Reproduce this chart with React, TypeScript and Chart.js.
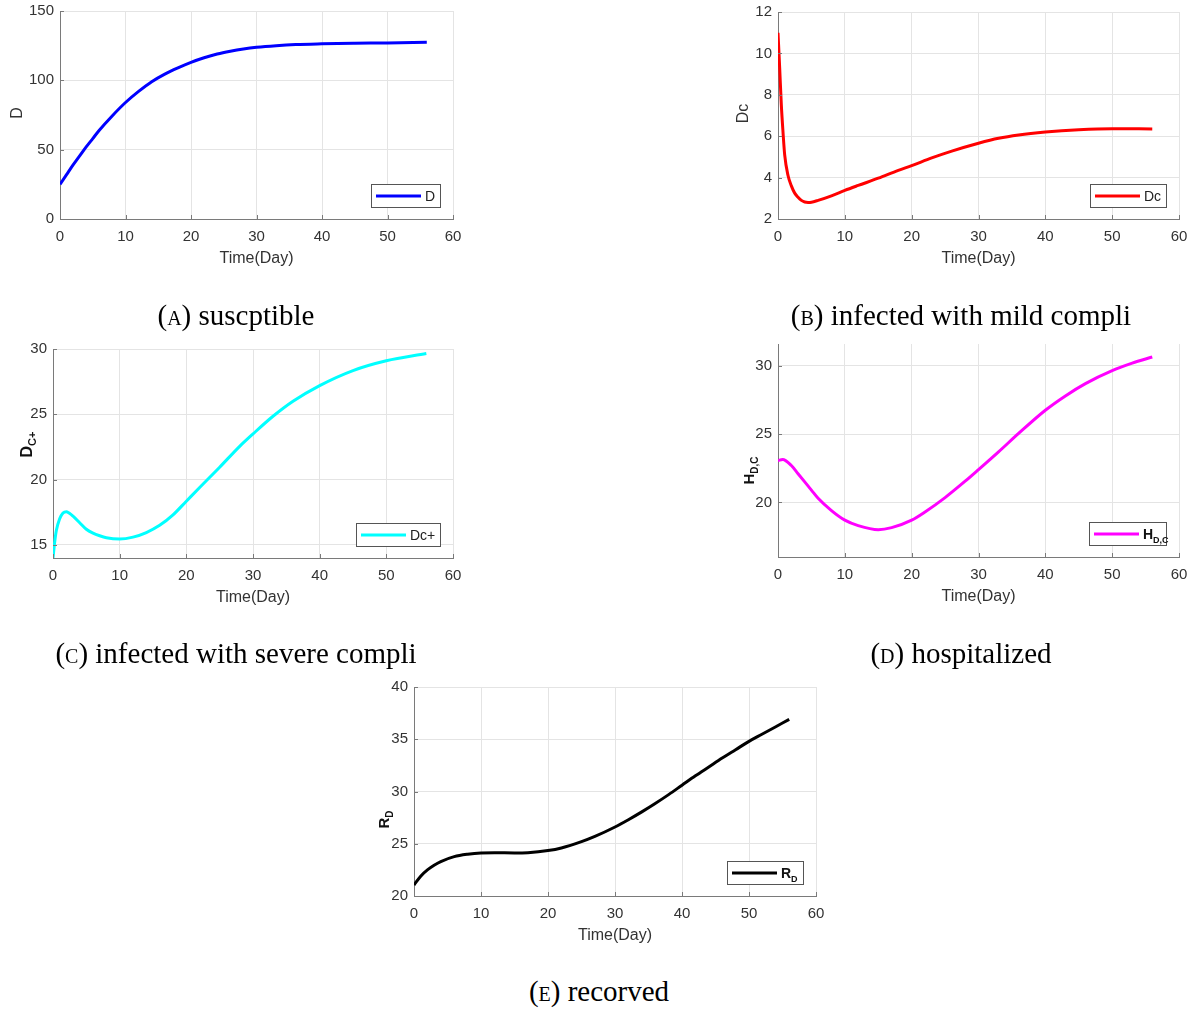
import React, { useEffect, useRef } from "react";
import { Chart, registerables } from "chart.js";
Chart.register(...registerables);

const FAM = '"Liberation Sans", Arial, sans-serif';
const AXIS = "#7a7a7a";
const TXT = "#333333";

// x ticks shared
const xTicks = [0, 10, 20, 30, 40, 50, 60];

// (A) D
const xA = [0, 1, 2, 3, 4, 5, 6, 8, 10, 12, 14, 16, 18, 20, 22, 24, 26, 28, 30, 33, 36, 40, 45, 50, 56];
const yA = [25, 32, 39, 45.5, 52, 58, 64, 74.5, 84, 92, 99, 104.5, 109, 113, 116.3, 119, 121, 122.6, 123.8, 125, 125.8, 126.3, 126.7, 127, 127.5];
const yTicksA = [0, 50, 100, 150];

// (B) Dc
const xB = [0, 0.25, 0.5, 0.75, 1, 1.5, 2, 2.5, 3, 3.5, 4, 4.5, 5, 6, 8, 10, 12, 15, 18, 20, 23, 26, 30, 33, 36, 40, 45, 50, 56];
const yB = [11, 9.3, 7.5, 6.2, 5.1, 4.1, 3.6, 3.25, 3.05, 2.9, 2.82, 2.8, 2.81, 2.9, 3.12, 3.38, 3.62, 3.97, 4.35, 4.58, 4.95, 5.28, 5.66, 5.9, 6.06, 6.2, 6.31, 6.36, 6.35];
const yTicksB = [2, 4, 6, 8, 10, 12];

// (C) Dc+
const xC = [0, 0.25, 0.5, 1, 1.5, 2, 3, 4, 5, 6, 7, 8, 10, 12, 14, 16, 18, 20, 22, 25, 28, 30, 33, 36, 40, 45, 50, 56];
const yC = [14, 15.2, 16.1, 17.0, 17.45, 17.55, 17.2, 16.7, 16.2, 15.9, 15.7, 15.55, 15.45, 15.6, 15.95, 16.5, 17.3, 18.35, 19.4, 20.95, 22.55, 23.5, 24.85, 26.0, 27.2, 28.35, 29.1, 29.65];
const yTicksC = [15, 20, 25, 30];

// (D) H_D,C
const xD = [0, 0.7, 2, 3, 4, 5, 6, 8, 10, 12, 15, 17, 20, 22, 25, 28, 30, 33, 36, 40, 43, 46, 50, 53, 56];
const yD = [23.05, 23.15, 22.7, 22.1, 21.5, 20.9, 20.3, 19.4, 18.7, 18.3, 18.0, 18.15, 18.7, 19.3, 20.35, 21.55, 22.4, 23.7, 25.05, 26.75, 27.8, 28.7, 29.65, 30.2, 30.65];
const yTicksD = [20, 25, 30];

// (E) R_D
const xE = [0, 1, 2, 3, 4, 6, 8, 10, 12, 15, 17, 20, 22, 25, 27, 30, 32, 34, 36, 38, 40, 42, 44, 46, 48, 50, 52, 54, 56];
const yE = [21.05, 21.9, 22.5, 22.95, 23.3, 23.77, 24.0, 24.12, 24.14, 24.12, 24.15, 24.35, 24.6, 25.2, 25.7, 26.6, 27.3, 28.05, 28.85, 29.7, 30.6, 31.5, 32.35, 33.2, 34.0, 34.8, 35.5, 36.2, 36.9];
const yTicksE = [20, 25, 30, 35, 40];

type Part = [string, boolean];

const yTitleA: Part[] = [["D", false]];
const yTitleB: Part[] = [["Dc", false]];
const yTitleC: Part[] = [["D", false], ["C+", true]];
const yTitleD: Part[] = [["H", false], ["D,C", true]];
const yTitleE: Part[] = [["R", false], ["D", true]];

const legendA: Part[] = [["D", false]];
const legendB: Part[] = [["Dc", false]];
const legendC: Part[] = [["Dc+", false]];
const legendD: Part[] = [["H", false], ["D,C", true]];
const legendE: Part[] = [["R", false], ["D", true]];

interface Cfg {
  plot: { l: number; t: number; r: number; b: number };
  xs: number[];
  ys: number[];
  color: string;
  yMin: number;
  yMax: number;
  yTicks: number[];
  yTitle: Part[];
  yTitleBold: boolean;
  yTitleSize: number;
  yTitleSub: number;
  yTitleDx: number;
  yTitleDy: number;
  legend: Part[];
  legendBold: boolean;
  legendW: number;
}

const charts: Cfg[] = [
  { plot: { l: 60, t: 11, r: 453, b: 219 }, xs: xA, ys: yA, color: "#0000ff", yMin: 0, yMax: 150, yTicks: yTicksA,
    yTitle: yTitleA, yTitleBold: false, yTitleSize: 16, yTitleSub: 11, yTitleDx: 44, yTitleDy: -2, legend: legendA, legendBold: false, legendW: 69 },
  { plot: { l: 778, t: 12, r: 1179, b: 219 }, xs: xB, ys: yB, color: "#ff0000", yMin: 2, yMax: 12, yTicks: yTicksB,
    yTitle: yTitleB, yTitleBold: false, yTitleSize: 16, yTitleSub: 11, yTitleDx: 36, yTitleDy: -2, legend: legendB, legendBold: false, legendW: 76 },
  { plot: { l: 53, t: 349, r: 453, b: 558 }, xs: xC, ys: yC, color: "#00ffff", yMin: 14, yMax: 30, yTicks: yTicksC,
    yTitle: yTitleC, yTitleBold: true, yTitleSize: 16, yTitleSub: 11, yTitleDx: 27, yTitleDy: -9, legend: legendC, legendBold: false, legendW: 84 },
  { plot: { l: 778, t: 344, r: 1179, b: 557 }, xs: xD, ys: yD, color: "#ff00ff", yMin: 16, yMax: 31.6, yTicks: yTicksD,
    yTitle: yTitleD, yTitleBold: true, yTitleSize: 15, yTitleSub: 10, yTitleDx: 29, yTitleDy: 20, legend: legendD, legendBold: true, legendW: 77 },
  { plot: { l: 414, t: 687, r: 816, b: 896 }, xs: xE, ys: yE, color: "#000000", yMin: 20, yMax: 40, yTicks: yTicksE,
    yTitle: yTitleE, yTitleBold: true, yTitleSize: 15, yTitleSub: 10, yTitleDx: 30, yTitleDy: 28, legend: legendE, legendBold: true, legendW: 76 },
];

const captions = [
  { letter: "(a)", text: " suscptible", cx: 236, cy: 315 },
  { letter: "(b)", text: " infected with mild compli", cx: 961, cy: 315 },
  { letter: "(c)", text: " infected with severe compli", cx: 236, cy: 653 },
  { letter: "(d)", text: " hospitalized", cx: 961, cy: 653 },
  { letter: "(e)", text: " recorved", cx: 599, cy: 991 },
];

const PAD_L = 60, PAD_T = 18, PAD_R = 22, X_H = 52;

function drawParts(ctx: CanvasRenderingContext2D, parts: Part[], x: number, y: number, center: boolean, bold: boolean, size: number, sub: number) {
  const w = bold ? "bold " : "";
  const mainF = `${w}${size}px ${FAM}`;
  const subF = `${w}${sub}px ${FAM}`;
  let total = 0;
  for (const [t, s] of parts) {
    ctx.font = s ? subF : mainF;
    total += ctx.measureText(t).width;
  }
  let cx = center ? x - total / 2 : x;
  ctx.textBaseline = "alphabetic";
  ctx.textAlign = "left";
  const base = y + size * 0.36;
  for (const [t, s] of parts) {
    ctx.font = s ? subF : mainF;
    ctx.fillText(t, cx, base + (s ? size * 0.25 : 0));
    cx += ctx.measureText(t).width;
  }
}

function ChartBox({ cfg }: { cfg: Cfg }) {
  const ref = useRef<HTMLCanvasElement>(null);
  const pw = cfg.plot.r - cfg.plot.l;
  const ph = cfg.plot.b - cfg.plot.t;
  const W = pw + PAD_L + PAD_R;
  const H = ph + PAD_T + X_H;
  useEffect(() => {
    if (!ref.current) return;
    const overlay = {
      id: "overlay",
      afterDraw(chart: any) {
        const { ctx, chartArea: a, scales } = chart;
        ctx.save();
        // inward tick marks
        ctx.strokeStyle = AXIS;
        ctx.lineWidth = 1;
        for (const t of scales.x.ticks) {
          const px = Math.round(scales.x.getPixelForValue(t.value)) + 0.5;
          ctx.beginPath();
          ctx.moveTo(px, a.bottom);
          ctx.lineTo(px, a.bottom - 4);
          ctx.stroke();
        }
        for (const t of scales.y.ticks) {
          const py = Math.round(scales.y.getPixelForValue(t.value)) + 0.5;
          ctx.beginPath();
          ctx.moveTo(a.left, py);
          ctx.lineTo(a.left + 4, py);
          ctx.stroke();
        }
        // y title
        ctx.save();
        ctx.translate(a.left - cfg.yTitleDx, (a.top + a.bottom) / 2 + cfg.yTitleDy);
        ctx.rotate(-Math.PI / 2);
        ctx.fillStyle = cfg.yTitleBold ? "#111" : TXT;
        drawParts(ctx, cfg.yTitle, 0, 0, true, cfg.yTitleBold, cfg.yTitleSize, cfg.yTitleSub);
        ctx.restore();
        // legend
        const h = 23;
        const bx = Math.round(a.right - 13 - cfg.legendW);
        const by = Math.round(a.bottom - 12 - h);
        ctx.fillStyle = "#ffffff";
        ctx.fillRect(bx, by, cfg.legendW, h);
        ctx.strokeStyle = "#555555";
        ctx.lineWidth = 1;
        ctx.strokeRect(bx + 0.5, by + 0.5, cfg.legendW, h);
        ctx.strokeStyle = cfg.color;
        ctx.lineWidth = 3;
        ctx.beginPath();
        ctx.moveTo(bx + 5, by + h / 2 + 0.5);
        ctx.lineTo(bx + 50, by + h / 2 + 0.5);
        ctx.stroke();
        ctx.fillStyle = cfg.legendBold ? "#111" : "#222";
        drawParts(ctx, cfg.legend, bx + 54, by + h / 2 + 0.5, false, cfg.legendBold, 14, 9);
        ctx.restore();
      },
    };
    const chart = new Chart(ref.current, {
      type: "line",
      data: {
        datasets: [
          {
            label: cfg.legend.map((p) => p[0]).join(""),
            data: cfg.xs.map((x, i) => ({ x, y: cfg.ys[i] })),
            borderColor: cfg.color,
            borderWidth: 3,
            pointRadius: 0,
            cubicInterpolationMode: "monotone",
            fill: false,
          },
        ],
      },
      options: {
        animation: false,
        responsive: false,
        maintainAspectRatio: false,
        layout: { padding: { left: 0, right: PAD_R, top: PAD_T, bottom: 0 } },
        plugins: { legend: { display: false }, tooltip: { enabled: false } },
        scales: {
          x: {
            type: "linear",
            min: 0,
            max: 60,
            afterBuildTicks: (s: any) => {
              s.ticks = xTicks.map((v) => ({ value: v }));
            },
            afterFit: (s: any) => {
              s.height = X_H;
            },
            grid: { color: "#e4e4e4", drawTicks: false },
            border: { color: AXIS, width: 1 },
            ticks: { padding: 9, color: TXT, font: { family: FAM, size: 15 } },
            title: {
              display: true,
              text: "Time(Day)",
              color: TXT,
              font: { family: FAM, size: 16 },
              padding: { top: 0, bottom: 3 },
            },
          },
          y: {
            type: "linear",
            min: cfg.yMin,
            max: cfg.yMax,
            afterBuildTicks: (s: any) => {
              s.ticks = cfg.yTicks.map((v) => ({ value: v }));
            },
            afterFit: (s: any) => {
              s.width = PAD_L;
            },
            grid: { color: "#e4e4e4", drawTicks: false },
            border: { color: AXIS, width: 1 },
            ticks: { padding: 6, color: TXT, font: { family: FAM, size: 15 } },
          },
        },
      } as any,
      plugins: [overlay],
    });
    return () => chart.destroy();
  }, []);
  return (
    <div style={{ position: "absolute", left: cfg.plot.l - PAD_L, top: cfg.plot.t - PAD_T, width: W, height: H }}>
      <canvas ref={ref} width={W} height={H} style={{ width: W, height: H, display: "block" }} />
    </div>
  );
}

export default function App() {
  return (
    <div style={{ position: "absolute", left: 0, top: 0, width: 1194, height: 1009, background: "#fff", overflow: "hidden" }}>
      {charts.map((c, i) => (
        <ChartBox key={i} cfg={c} />
      ))}
      {captions.map((c, i) => (
        <div
          key={"cap" + i}
          style={{
            position: "absolute",
            left: c.cx - 300,
            top: c.cy - 17,
            width: 600,
            height: 34,
            lineHeight: "34px",
            textAlign: "center",
            fontFamily: '"Liberation Serif", "Times New Roman", serif',
            fontSize: 29,
            color: "#000",
            whiteSpace: "nowrap",
          }}
        >
          <span style={{ fontVariant: "small-caps" }}>{c.letter}</span>
          {c.text}
        </div>
      ))}
    </div>
  );
}
